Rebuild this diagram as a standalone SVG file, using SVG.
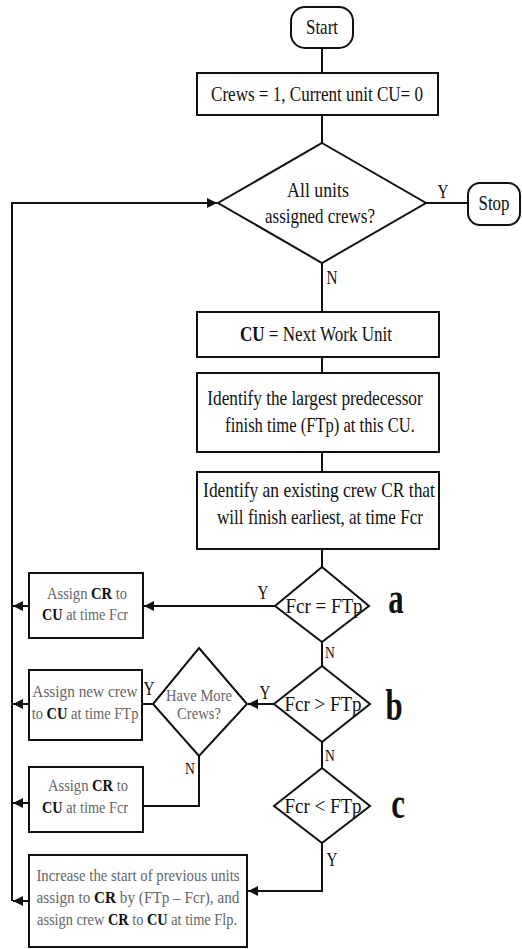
<svg xmlns="http://www.w3.org/2000/svg" width="522" height="949" viewBox="0 0 522 949">
  <style>
    .shape { fill: #ffffff; stroke: #111111; stroke-width: 2; }
    .line { fill: none; stroke: #111111; stroke-width: 2; }
    .t { font-family: "Liberation Serif", "Times New Roman", serif; fill: #111111; text-anchor: middle; }
    .m { font-size: 20px; }
    .s { font-size: 17px; }
    .g { fill: #666666; }
    .b { font-weight: bold; fill: #111111; }
    .lab { font-size: 19px; }
    .big { font-size: 44px; font-weight: bold; }
  </style>
  <defs>
    <marker id="arrow" viewBox="0 0 10 10" refX="10" refY="5" markerWidth="5" markerHeight="5" orient="auto" markerUnits="strokeWidth">
      <path d="M0,0 L10,5 L0,10 Z" fill="#111111"/>
    </marker>
  </defs>

  <!-- flow lines, arrowheads and Y/N branch labels -->
  <g id="connectors">
    <path class="line" d="M322,48 V73"/>
    <path class="line" d="M322,115 V143"/>
    <path class="line" d="M426,203 H468"/>
    <path class="line" d="M322,263 V312"/>
    <path class="line" d="M322,357 V373"/>
    <path class="line" d="M322,452 V472"/>
    <path class="line" d="M322,549 V567"/>
    <path class="line" d="M275,606 H144" marker-end="url(#arrow)"/>
    <path class="line" d="M322,642 V666"/>
    <path class="line" d="M274,704 H248" marker-end="url(#arrow)"/>
    <path class="line" d="M153,704 H142"/>
    <path class="line" d="M199,756 V806 H143"/>
    <path class="line" d="M322,742 V768"/>
    <path class="line" d="M322,843 V891 H248" marker-end="url(#arrow)"/>
    <path class="line" d="M12,901 V203 H217" marker-end="url(#arrow)"/>
    <path class="line" d="M29,606 H13" marker-end="url(#arrow)"/>
    <path class="line" d="M29,704 H13" marker-end="url(#arrow)"/>
    <path class="line" d="M29,803 H13" marker-end="url(#arrow)"/>
    <path class="line" d="M29,901 H13" marker-end="url(#arrow)"/>
    <text class="t lab" transform="translate(443,198) scale(0.8,1)">Y</text>
    <text class="t lab" transform="translate(332,284) scale(0.8,1)">N</text>
    <text class="t lab" transform="translate(263,599) scale(0.8,1)">Y</text>
    <text class="t s" transform="translate(330,658) scale(0.8,1)">N</text>
    <text class="t lab" transform="translate(265,699) scale(0.8,1)">Y</text>
    <text class="t lab" transform="translate(149,695) scale(0.8,1)">Y</text>
    <text class="t s" transform="translate(190,774) scale(0.8,1)">N</text>
    <text class="t s" transform="translate(330,761) scale(0.8,1)">N</text>
    <text class="t lab" transform="translate(332,866) scale(0.8,1)">Y</text>
  </g>

  <g id="start">
    <rect class="shape" x="291" y="7" width="62" height="41" rx="14"/>
    <text class="t m" transform="translate(322,34) scale(0.85,1)">Start</text>
  </g>

  <g id="init">
    <rect class="shape" x="197" y="73" width="241" height="42"/>
    <text class="t m" transform="translate(317,101) scale(0.853,1)">Crews = 1, Current unit CU= 0</text>
  </g>

  <g id="all-assigned">
    <polygon class="shape" points="322,143 426,203 322,263 218,203"/>
    <text class="t m" transform="translate(318,197) scale(0.89,1)">All units</text>
    <text class="t m" transform="translate(320,223) scale(0.85,1)">assigned crews?</text>
  </g>

  <g id="stop">
    <rect class="shape" x="468" y="183" width="52" height="42" rx="12"/>
    <text class="t m" transform="translate(494,210) scale(0.845,1)">Stop</text>
  </g>

  <g id="next-unit">
    <rect class="shape" x="197" y="312" width="242" height="45"/>
    <text class="t m" transform="translate(316,341) scale(0.855,1)"><tspan class="b">CU</tspan> = Next Work Unit</text>
  </g>

  <g id="predecessor">
    <rect class="shape" x="197" y="373" width="242" height="79"/>
    <text class="t m" transform="translate(315,405) scale(0.862,1)">Identify the largest predecessor</text>
    <text class="t m" transform="translate(320,432) scale(0.83,1)">finish time (FTp) at this CU.</text>
  </g>

  <g id="existing-crew">
    <rect class="shape" x="197" y="472" width="242" height="77"/>
    <text class="t m" transform="translate(319,497) scale(0.872,1)">Identify an existing crew CR that</text>
    <text class="t m" transform="translate(320,524) scale(0.855,1)">will finish earliest, at time Fcr</text>
  </g>

  <g id="cond-a">
    <polygon class="shape" points="322,567 369,606 322,642 275,606"/>
    <text class="t m" transform="translate(324,613) scale(0.95,1)">Fcr = FTp</text>
    <text class="t big" transform="translate(396,613) scale(0.7,1)">a</text>
  </g>

  <g id="assign-a">
    <rect class="shape" x="29" y="573" width="114" height="65"/>
    <text class="t s g" transform="translate(87,599) scale(0.856,1)">Assign <tspan class="b">CR</tspan> to</text>
    <text class="t s g" transform="translate(85,620) scale(0.84,1)"><tspan class="b">CU</tspan> at time Fcr</text>
  </g>

  <g id="cond-b">
    <polygon class="shape" points="322,666 370,704 322,742 274,704"/>
    <text class="t m" transform="translate(323,711) scale(0.95,1)">Fcr &gt; FTp</text>
    <text class="t big" transform="translate(394,720) scale(0.7,1)">b</text>
  </g>

  <g id="more-crews">
    <polygon class="shape" points="199,648 247,704 199,756 153,704"/>
    <text class="t s g" transform="translate(199,701) scale(0.857,1)">Have More</text>
    <text class="t s g" transform="translate(199,719) scale(0.86,1)">Crews?</text>
  </g>

  <g id="assign-new">
    <rect class="shape" x="29" y="670" width="113" height="70"/>
    <text class="t s g" transform="translate(85,697) scale(0.9,1)">Assign new crew</text>
    <text class="t s g" transform="translate(85,719) scale(0.85,1)">to <tspan class="b">CU</tspan> at time FTp</text>
  </g>

  <g id="assign-c">
    <rect class="shape" x="29" y="767" width="114" height="65"/>
    <text class="t s g" transform="translate(88,791) scale(0.856,1)">Assign <tspan class="b">CR</tspan> to</text>
    <text class="t s g" transform="translate(85,813) scale(0.84,1)"><tspan class="b">CU</tspan> at time Fcr</text>
  </g>

  <g id="cond-c">
    <polygon class="shape" points="322,768 370,806 322,843 274,806"/>
    <text class="t m" transform="translate(323,813) scale(0.95,1)">Fcr &lt; FTp</text>
    <text class="t big" transform="translate(398,818) scale(0.7,1)">c</text>
  </g>

  <g id="shift-start">
    <rect class="shape" x="29" y="855" width="218" height="92"/>
    <text class="t s g" transform="translate(138,881) scale(0.87,1)">Increase the start of previous units</text>
    <text class="t s g" transform="translate(138,903) scale(0.896,1)">assign to <tspan class="b">CR</tspan> by (FTp – Fcr), and</text>
    <text class="t s g" transform="translate(137,925) scale(0.844,1)">assign crew <tspan class="b">CR</tspan> to <tspan class="b">CU</tspan> at time Flp.</text>
  </g>
</svg>
